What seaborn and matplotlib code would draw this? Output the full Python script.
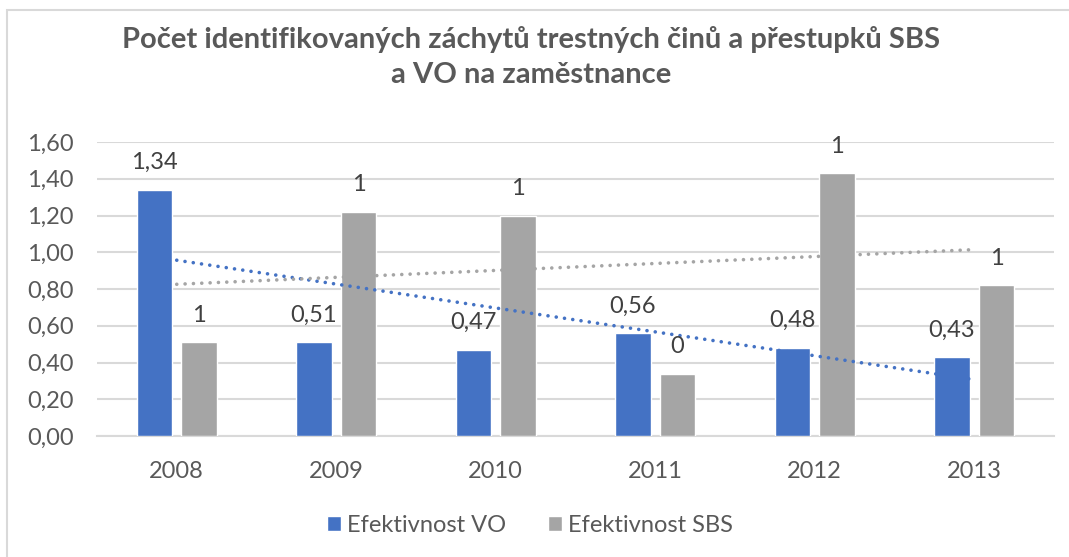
import numpy as np
import pandas as pd
import seaborn as sns
import matplotlib.pyplot as plt
from matplotlib.patches import Rectangle

years = ["2008", "2009", "2010", "2011", "2012", "2013"]
vo = [1.34, 0.51, 0.47, 0.56, 0.48, 0.43]
sbs = [0.51, 1.22, 1.20, 0.34, 1.43, 0.82]
series = ["Efektivnost VO", "Efektivnost SBS"]
yticks = [0.0, 0.2, 0.4, 0.6, 0.8, 1.0, 1.2, 1.4, 1.6]

BLUE = "#4472C4"
GREY = "#A5A5A5"
TXT = "#595959"
GRID = "#D9D9D9"

df = pd.DataFrame({
    "rok": years * 2,
    "hodnota": vo + sbs,
    "serie": [series[0]] * 6 + [series[1]] * 6,
})

sns.set_theme(style="white")
plt.rcParams["font.family"] = ["Lato", "DejaVu Sans"]

fig = plt.figure(figsize=(10.69, 5.57), dpi=100)
ax = fig.add_axes([97 / 1069, 1 - 436 / 557, (1054 - 97) / 1069, (436 - 142) / 557])

# chart frame (only top/left edges visible in the reference)
fig.patches.append(Rectangle((7 / 1069, -0.1), 1.2, (557 - 10) / 557 + 0.1,
                             transform=fig.transFigure, fill=False,
                             edgecolor=GRID, lw=1.5, zorder=0))

sns.barplot(data=df, x="rok", y="hodnota", hue="serie", order=years,
            hue_order=series, palette=[BLUE, GREY], width=0.56, gap=0.2,
            saturation=1, ax=ax, zorder=3)

# data labels
for cont, vals, fmt in zip(ax.containers, [vo, sbs], ["{:.2f}", "{:.0f}"]):
    for bar, v in zip(cont, vals):
        ax.annotate(fmt.format(v).replace(".", ","),
                    (bar.get_x() + bar.get_width() / 2, bar.get_height()),
                    xytext=(0, 19.5), textcoords="offset points",
                    ha="center", va="center", fontsize=17, color="#404040",
                    zorder=5)

# linear trend lines
xs = np.arange(len(years))
for vals, col in [(vo, BLUE), (sbs, GREY)]:
    k, q = np.polyfit(xs, vals, 1)
    ax.plot([xs[0], xs[-1]], [q + k * xs[0], q + k * xs[-1]], color=col,
            lw=2.6, linestyle=(0, (0.01, 2.3)), dash_capstyle="round", zorder=4)

ax.set_xlim(-0.5, 5.5)
ax.set_ylim(0, 1.6)
ax.set_yticks(yticks)
ax.set_yticklabels([f"{t:.2f}".replace(".", ",") for t in yticks])
ax.yaxis.grid(True, color=GRID, lw=1.5, zorder=0)
ax.set_axisbelow(True)
for s in ["top", "right", "left"]:
    ax.spines[s].set_visible(False)
ax.spines["bottom"].set_color(GRID)
ax.spines["bottom"].set_linewidth(1.5)
ax.tick_params(axis="both", length=0, labelsize=17, labelcolor=TXT)
ax.tick_params(axis="y", pad=17)
ax.tick_params(axis="x", pad=18)
ax.set_xlabel("")
ax.set_ylabel("")

fig.text(531 / 1069, 1 - 57 / 557,
         "Počet identifikovaných záchytů trestných činů a přestupků SBS\na VO na zaměstnance",
         ha="center", va="center", fontsize=21, fontweight="bold", color=TXT,
         linespacing=1.45)

handles, labels = ax.get_legend_handles_labels()
ax.legend(handles, labels, loc="center", bbox_to_anchor=(530 / 1069, 1 - 525 / 557),
          bbox_transform=fig.transFigure, ncol=2, frameon=False, fontsize=17,
          labelcolor=TXT, handlelength=0.6, handleheight=0.6, handletextpad=0.25,
          columnspacing=1.8)

fig.savefig("out.png", dpi=100, facecolor="white")
